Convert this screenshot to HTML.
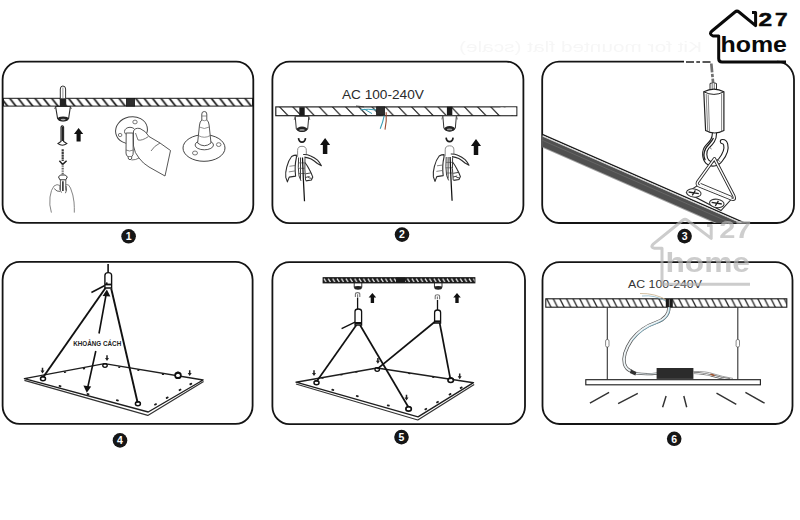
<!DOCTYPE html>
<html>
<head>
<meta charset="utf-8">
<title>Installation diagram</title>
<style>
html,body{margin:0;padding:0;background:#fff;}
body{width:800px;height:520px;overflow:hidden;font-family:"Liberation Sans",sans-serif;}
svg{display:block;}
text{font-family:"Liberation Sans",sans-serif;}
</style>
</head>
<body>
<svg width="800" height="520" viewBox="0 0 800 520">
<defs>
  <pattern id="hatch1" width="8.4" height="10" patternUnits="userSpaceOnUse" x="3" y="97.5">
    <rect width="8.4" height="10" fill="#fff"/>
    <path d="M-3,-1 L6.4,11 M5.4,-1 L14.8,11 M-11.4,-1 L-2,11" stroke="#1c1c1c" stroke-width="1.75"/>
  </pattern>
  <pattern id="hatch2" width="13.2" height="11" patternUnits="userSpaceOnUse" x="278.3" y="106">
    <rect width="13.2" height="11" fill="#fff"/>
    <path d="M0,-0.5 L11.5,11.5 M13.2,-0.5 L24.7,11.5 M-13.2,-0.5 L-1.7,11.5" stroke="#222" stroke-width="1.2"/>
  </pattern>
  <pattern id="hatch5" width="4.4" height="7" patternUnits="userSpaceOnUse" x="323" y="277">
    <rect width="4.4" height="7" fill="#1c1c1c"/>
    <path d="M0.9,1.7 L3,5" stroke="#e6e6e6" stroke-width="1.35"/>
  </pattern>
  <pattern id="hatch6" width="6.6" height="11" patternUnits="userSpaceOnUse" x="546" y="297.8">
    <rect width="6.6" height="11" fill="#fff"/>
    <path d="M0,-0.5 L6,11.5 M6.6,-0.5 L12.6,11.5 M-6.6,-0.5 L-0.6,11.5" stroke="#2a2a2a" stroke-width="1.3"/>
  </pattern>
  <g id="uparrow">
    <path d="M0,-5 L3.6,-0.6 L1.6,-0.6 L1.6,5 L-1.6,5 L-1.6,-0.6 L-3.6,-0.6 Z" fill="#111"/>
  </g>
  <g id="dnarrow">
    <path d="M0,2.6 L2,-0.4 L0.75,-0.4 L0.75,-3.2 L-0.75,-3.2 L-0.75,-0.4 L-2,-0.4 Z" fill="#222"/>
  </g>
  <g id="anchor">
    <ellipse cx="0" cy="0" rx="2.5" ry="2" fill="#fff" stroke="#111" stroke-width="1.5"/>
    <path d="M-2.4,-1 Q0,-3.4 2.4,-1" fill="none" stroke="#111" stroke-width="1.3"/>
  </g>
  <g id="dot"><rect x="-1.4" y="-0.9" width="2.8" height="1.8" rx="0.6" fill="#1c1c1c"/></g>
<g id="hand2">
    <!-- cup mount, origin at mount center-x, strip bottom y -->
    <rect x="-2.7" y="-8.7" width="5.4" height="8.7" fill="#1a1a1a"/>
    <path d="M-6.8,0.4 H6.8 L5.7,13 Q0,18.5 -5.7,13 Z" fill="#fff" stroke="#333" stroke-width="1"/>
    <path d="M-6.8,0.4 L-7.8,4 M6.8,0.4 L7.8,4" stroke="#555" stroke-width="0.8"/>
    <ellipse cx="0" cy="13.4" rx="5.4" ry="2.7" fill="#242424"/>
    <ellipse cx="0" cy="14" rx="2.8" ry="0.9" fill="#9a9a9a"/>
    <!-- small hook -->
    <path d="M-3.5,22.3 Q-3,26.3 0,26.3 Q3,26.3 3.5,22.3" fill="none" stroke="#1c1c1c" stroke-width="1.7"/>
    <!-- knob -->
    <path d="M-4.4,41 V34.4 Q-4.4,30.4 0,30.4 Q4.3,30.4 4.3,34.4 V39" fill="#fff" stroke="#8a8a8a" stroke-width="1"/>
    <!-- left crescent -->
    <path d="M-5.6,39.2 Q-8,39.2 -10.4,40.6 Q-13.6,44.5 -15.2,51 Q-16.8,57 -16.2,61.5 L-14.6,66 L-12.8,61.2 L-6.4,60.2 Q-7.6,50 -5.6,41.6 Z" fill="#fff" stroke="#2a2a2a" stroke-width="1.1" stroke-linejoin="round"/>
    <path d="M-12.6,50.4 L-6.8,49.6 M-13.2,56 L-6.8,55" fill="none" stroke="#666" stroke-width="0.8"/>
    <!-- index finger -->
    <path d="M1.2,38.6 Q5,38.4 8.2,39.8 Q12.5,41.5 15.5,44.2 Q17.8,46.6 19.4,49.8 Q17,48.6 15.4,47.6 Q12.2,44.6 9.2,43 Q6,41.6 2.4,41.2" fill="#fff" stroke="#2a2a2a" stroke-width="1.1" stroke-linejoin="round"/>
    <!-- curled fingers -->
    <path d="M3,46.6 Q5.6,50 7.6,54.2 Q9.6,58 10.8,61.2 L9.4,64.2 L3.8,65 " fill="none" stroke="#2a2a2a" stroke-width="1.1"/>
    <path d="M3.6,57.9 L8.8,57 M3.4,61.6 L7.6,60.6 M6,60.8 Q6.6,62.6 9.6,62.4" fill="none" stroke="#333" stroke-width="0.9"/>
    <!-- centre fingers -->
    <path d="M-3.4,41.6 Q-4.2,52 -3,60 L-1,65 M-1.5,41.6 V63 M3,42 Q2.4,53 3.6,64.6" fill="none" stroke="#333" stroke-width="0.95"/>
    <path d="M-3.6,47 H2.6 M-3.8,52.4 H2.6 M-3.4,57.6 H3" fill="none" stroke="#555" stroke-width="0.7"/>
    <!-- wire -->
    <path d="M0.5,41.6 L1.3,62 L2.5,85.4" fill="none" stroke="#111" stroke-width="1.25"/>
  </g>
</defs>
<rect width="800" height="520" fill="#fff"/>

<!-- ghost text -->
<filter id="blur1" x="-5%" y="-50%" width="110%" height="200%"><feGaussianBlur stdDeviation="0.7"/></filter>
<g id="ghost" filter="url(#blur1)" opacity="0.6">
  <text transform="translate(702,52) scale(-1,1)" font-size="15" fill="#f1f1f1" textLength="243" lengthAdjust="spacingAndGlyphs">Kit for mounted flat (scale)</text>
</g>

<!-- panel frames -->
<g fill="none" stroke="#141414" stroke-width="1.8">
  <rect x="2.6" y="61.6" width="250.7" height="161.2" rx="17" ry="18"/>
  <rect x="272.4" y="61.6" width="251" height="161.6" rx="17" ry="18"/>
  <path d="M684,61.6 H559 A17,18 0 0 0 542.2,79.6 V205 A17,18 0 0 0 559,223 H777 A17,18 0 0 0 794,205 V79.6 A17,18 0 0 0 777,61.6"/>
  <rect x="2.6" y="261.8" width="250" height="162" rx="17" ry="18"/>
  <rect x="272.4" y="262.2" width="252.6" height="162" rx="17" ry="18"/>
  <rect x="542.5" y="262.2" width="250" height="161.8" rx="17" ry="18"/>
</g>

<!-- PANEL 1 -->
<g id="p1">
  <!-- ceiling strip -->
  <rect x="3.5" y="98.3" width="249" height="7.8" fill="url(#hatch1)" stroke="#1a1a1a" stroke-width="1"/>
  <rect x="126.4" y="98.4" width="8.2" height="7.7" fill="#2e2e2e" stroke="#161616" stroke-width="0.8"/>
  <!-- anchor plug -->
  <path d="M60.3,98.5 V89 Q60.3,86 62.9,86 Q65.6,86 65.6,89 V98.5" fill="#fff" stroke="#333" stroke-width="1"/>
  <path d="M62.9,87.5 V98" stroke="#777" stroke-width="0.8" fill="none"/>
  <rect x="59.8" y="98.5" width="6.4" height="7.6" fill="#222"/>
  <!-- cup mount -->
  <path d="M55.6,106.5 H70.4 L68.6,118.5 Q63,123.5 57.6,118.5 Z" fill="#fff" stroke="#2a2a2a" stroke-width="1.1"/>
  <ellipse cx="63.1" cy="118.9" rx="5.3" ry="2.4" fill="#222"/>
  <ellipse cx="63.1" cy="119.6" rx="2.6" ry="0.8" fill="#aaa"/>
  <path d="M55.6,106.5 L54.6,109 M70.4,106.5 L71.4,109" stroke="#444" stroke-width="0.8"/>
  <!-- screw -->
  <path d="M61,127 Q62.3,124.8 63.6,127 V141.5 L66.8,143.6 Q62.3,146.8 58,143.6 L61,141.5 Z" fill="#fff" stroke="#222" stroke-width="1.1"/>
  <path d="M62.3,127 V141" stroke="#222" stroke-width="1.4"/>
  <!-- arrow -->
  <use href="#uparrow" transform="translate(78.6,134.8) scale(1.28,1.35)"/>
  <!-- bit + hook -->
  <path d="M62.7,149.2 V161" stroke="#3a3a3a" stroke-width="2.2" stroke-dasharray="2.2 0.5" fill="none"/>
  <path d="M59.4,160.8 L62.7,164.4 L66.6,160.8" stroke="#222" stroke-width="1.5" fill="none" stroke-linejoin="round"/>
  <path d="M62.7,164.5 V175" stroke="#666" stroke-width="2.2" stroke-dasharray="1 0.7" fill="none"/>
  <!-- screwdriver handle -->
  <path d="M58.5,177 L60.4,175 H65.3 L67.3,177 L65.8,179.8 H59.9 Z" fill="#fff" stroke="#333" stroke-width="1"/>
  <path d="M60.4,179.8 V190 M65.8,179.8 V190.6" fill="none" stroke="#444" stroke-width="0.9"/>
  <path d="M62.9,181.2 V191" stroke="#222" stroke-width="1.5"/>
  <!-- hand -->
  <path d="M51.4,212.6 Q49,205 50,197 Q51,189.5 54,186 Q57,183.5 60,185.5 M65.8,184.6 Q68.6,183.4 70.5,188 Q73.4,195 74,202 Q74.5,208 74.3,212.6" fill="none" stroke="#777" stroke-width="0.9"/>
  <path d="M54.2,188.6 Q57,192 60,191.4 M60,185.5 Q59,190 61.5,192.6 M66,186 Q67.5,190.5 65.4,193.2" fill="none" stroke="#555" stroke-width="0.9"/>

  <!-- middle: hand holding mount -->
  <ellipse cx="131.5" cy="130.2" rx="16" ry="13.4" fill="#fff" stroke="#444" stroke-width="1" transform="rotate(-12 131.5 130.2)"/>
  <ellipse cx="135" cy="122" rx="2.2" ry="1.9" fill="#fff" stroke="#555" stroke-width="0.8"/>
  <ellipse cx="120.1" cy="135" rx="1.8" ry="1.6" fill="#fff" stroke="#555" stroke-width="0.8"/>
  <ellipse cx="130" cy="131.5" rx="5.5" ry="4.2" fill="#fff" stroke="#444" stroke-width="0.9"/>
  <path d="M126.2,133 L126,153 Q126,156 128,156.5 L128.5,159 Q130,160.5 131.5,159 L131.8,156.5 Q133.5,155 133.2,152 L133,133 Z" fill="#fff" stroke="#444" stroke-width="0.9"/>
  <path d="M126,150 Q129.5,152 133.2,150 M128,156.5 H131.8" fill="none" stroke="#555" stroke-width="0.7"/>
  <path d="M133.5,131 Q135,127.5 140,128.5 Q146,131 149,136.5 L160,143 L170.5,150.5 L165,176 L149,167 Q143,163.5 139,158 Q134.5,153 133.5,146 Z" fill="#fff" stroke="#444" stroke-width="0.9"/>
  <path d="M135.5,133 L138,140 Q142,141 148.5,136.5 M160,143 Q154,146 151,151 M139,158 Q136,160 131.5,160" fill="none" stroke="#555" stroke-width="0.8"/>

  <!-- right: mount -->
  <ellipse cx="204" cy="148" rx="21" ry="13.3" fill="#fff" stroke="#444" stroke-width="1"/>
  <ellipse cx="218.7" cy="144.6" rx="2.3" ry="1.9" fill="#fff" stroke="#555" stroke-width="0.8"/>
  <ellipse cx="195" cy="153" rx="2.5" ry="2" fill="#fff" stroke="#555" stroke-width="0.8"/>
  <ellipse cx="204.3" cy="145" rx="9.2" ry="4.8" fill="#fff" stroke="#444" stroke-width="0.9"/>
  <path d="M197.6,143 L199.5,125 Q199.8,121.5 201.8,120 V114 Q201.8,111.5 204.3,111.5 Q206.8,111.5 206.8,114 V120 Q208.8,121.5 209.1,125 L211,143 Q204.3,148.5 197.6,143 Z" fill="#fff" stroke="#444" stroke-width="0.9"/>
  <path d="M201.8,116 H206.8 M201.8,120 Q204.3,121.5 206.8,120 M199.3,127 Q204.3,130 209.3,127 M198.3,135.5 Q204.3,139 210.3,135.5" fill="none" stroke="#666" stroke-width="0.7"/>
</g>
<!-- PANEL 2 -->
<g id="p2">
  <rect x="275.8" y="106.9" width="241" height="8.8" fill="url(#hatch2)" stroke="#1a1a1a" stroke-width="1.15"/><rect x="500.5" y="107.5" width="15.7" height="7.6" fill="#fff"/>
  <!-- wires -->
  <path d="M356,106 Q360,106.3 364,106.9" fill="none" stroke="#333" stroke-width="0.9"/>
  <path d="M360.5,109.8 Q368,108.6 376.5,110 M364.5,109.2 L372,113.6" fill="none" stroke="#3a9db5" stroke-width="1"/>
  <rect x="376.6" y="106.9" width="8" height="8.2" fill="#2e2e2e" stroke="#1a1a1a" stroke-width="0.8"/>
  <path d="M384.2,115.6 Q383,122 380.2,128.8" fill="none" stroke="#3a9db5" stroke-width="1.1"/>
  <path d="M386.2,112.3 Q386.8,121 385,129.6" fill="none" stroke="#9a4a30" stroke-width="1.1"/>
  
  <text x="341.9" y="98.5" font-size="13.4" fill="#2a2a2a" textLength="82" lengthAdjust="spacingAndGlyphs">AC 100-240V</text>
  <use href="#hand2" transform="translate(302,115.9)"/>
  <use href="#hand2" transform="translate(449.6,115.4)"/>
  <use href="#uparrow" transform="translate(325.1,146) scale(1.4,1.6)"/>
  <use href="#uparrow" transform="translate(476,147) scale(1.4,1.6)"/>
</g>
<!-- PANEL 3 -->
<g id="p3">
  <!-- dashed top portion -->
    <path d="M686,62 H694 M696.3,62 H700 M702.5,62 H710.5" stroke="#222" stroke-width="1.6" fill="none"/>
  <!-- dashed wire -->
  <path d="M711.3,63.5 L713,82" stroke="#707070" stroke-width="2.7" stroke-dasharray="9 1.3 3.5 1.3" fill="none"/>
  <!-- edge bar (clipped to frame) -->
  <clipPath id="clip3"><rect x="542.5" y="61.5" width="251.5" height="161.5" rx="16"/></clipPath>
  <g clip-path="url(#clip3)">
    <path d="M541,135.34 L760,231.27 L760,243.07 L541,147.14 Z" fill="#a2a2a2"/>
    <path d="M541,135.94 L760,231.87 L760,241.97 L541,146.04 Z" fill="#505050"/>
    <path d="M541,133.74 L760,229.67" stroke="#1a1a1a" stroke-width="1.3" fill="none"/>
    <path d="M541,135.24 L760,231.17" stroke="#d6d6d6" stroke-width="1" fill="none"/>
    <path d="M541,139.74 L760,235.67" stroke="#666" stroke-width="0.9" fill="none"/>
  </g>
  <!-- plate -->
  <path d="M686.6,192.6 L698.3,185 L731.5,199 L721,210.6 Z" fill="#fff" stroke="#2a2a2a" stroke-width="1.1"/>
  <!-- screws -->
  <ellipse cx="693.8" cy="193" rx="7.3" ry="4.1" fill="#fff" stroke="#333" stroke-width="1.05" transform="rotate(8 693.8 193)"/>
  <path d="M688.6,192 L698.8,193.6 M692.3,195.4 L695.4,190.4" stroke="#222" stroke-width="1.3"/>
  <ellipse cx="716.8" cy="203.4" rx="7.3" ry="4.2" fill="#fff" stroke="#333" stroke-width="1.05" transform="rotate(8 716.8 203.4)"/>
  <path d="M711.6,202.4 L721.8,204 M715.3,205.8 L718.4,200.8" stroke="#222" stroke-width="1.3"/>
  <!-- hook -->
  <path d="M714.5,133 C714.5,140 711,143 707.5,146.5 C703.3,151 704.3,158.5 707.5,161.8 C711,165.3 717,164.6 720.5,160 C724,155.5 727.2,150 725.7,144.6 C725.1,142.4 723.6,141.5 722.4,141.6" fill="none" stroke="#1e1e1e" stroke-width="5.3" stroke-linecap="round"/>
  <path d="M714.5,133 C714.5,140 711,143 707.5,146.5 C703.3,151 704.3,158.5 707.5,161.8 C711,165.3 717,164.6 720.5,160 C724,155.5 727.2,150 725.7,144.6 C725.1,142.4 723.6,141.5 722.4,141.6" fill="none" stroke="#fff" stroke-width="3.1" stroke-linecap="round"/>
  <path d="M713.4,138 C711.5,142.5 708,144.5 705.6,148.6 C703.6,152.6 703.6,157 705.2,160.2" fill="none" stroke="#1e1e1e" stroke-width="1.3"/>
  <path d="M709,147 L711.6,149 M717.5,159.6 L720.4,162" stroke="#444" stroke-width="0.7"/>
  <!-- triangle wire -->
  <path d="M714.4,158.6 L697.6,182 Q696.2,184.8 699.4,186 L731,198.8 Q735.8,200.7 733.9,196 Z" fill="none" stroke="#2a2a2a" stroke-width="3.2" stroke-linejoin="round"/>
  <path d="M714.4,158.6 L697.6,182 Q696.2,184.8 699.4,186 L731,198.8 Q735.8,200.7 733.9,196 Z" fill="none" stroke="#fff" stroke-width="1.4" stroke-linejoin="round"/>
  <path d="M700,184.4 L731.5,197.4" stroke="#fff" stroke-width="2.2"/>
  <path d="M700.6,183.4 L732,196.5" stroke="#2a2a2a" stroke-width="0.9"/>
  <!-- cylinder -->
  <path d="M710,90 V83.5 Q713.2,81.5 716.5,83.5 V90" fill="#fff" stroke="#333" stroke-width="1"/>
  <path d="M712.2,83 V90 M714.3,83 V90" stroke="#555" stroke-width="0.8"/>
  <path d="M703.8,91.8 L705.6,130.5 Q714.5,135.5 723.9,130.5 L723.9,91.8 Q714,86.5 703.8,91.8 Z" fill="#fff" stroke="#222" stroke-width="1.2"/>
  <path d="M703.8,91.8 Q714,97 723.9,91.8" fill="none" stroke="#222" stroke-width="1"/>
  <path d="M706.2,94 L707.7,131.2 M708.2,94.6 L709.5,131.8 M721.6,93.5 L721.6,131.4" fill="none" stroke="#666" stroke-width="0.8"/>
</g>
<!-- PANEL 4 -->
<g id="p4">
  <!-- light panel (quad) -->
  <path d="M24.4,378.6 L104.5,363.6 L203.1,380 L148.2,412 Z" fill="#fff" stroke="#1e1e1e" stroke-width="1.4" stroke-linejoin="round"/>
  <path d="M24.4,380.4 L147.8,415.4 L203.6,381.6" fill="none" stroke="#333" stroke-width="1.2" stroke-linejoin="round"/>
  <!-- edge dots -->
  <use href="#dot" transform="translate(60,386.2) rotate(16)"/>
  <use href="#dot" transform="translate(88,394.2) rotate(16)"/>
  <use href="#dot" transform="translate(117.4,400.4) rotate(16)"/>
  <use href="#dot" transform="translate(155.5,404.4) rotate(-30)"/>
  <use href="#dot" transform="translate(167.2,397.7) rotate(-30)"/>
  <use href="#dot" transform="translate(180,389.9) rotate(-30)"/>
  <use href="#dot" transform="translate(190.8,384) rotate(-30)"/>
  <use href="#dot" transform="translate(119.2,367.2) rotate(9) scale(0.8)"/>
  <use href="#dot" transform="translate(138.3,370.2) rotate(9) scale(0.8)"/>
  <use href="#dot" transform="translate(162.9,374.3) rotate(9) scale(0.8)"/>
  <use href="#dot" transform="translate(65,372.2) rotate(-10) scale(0.8)"/>
  <use href="#dot" transform="translate(84,368.6) rotate(-10) scale(0.8)"/>
  <!-- anchors -->
  <use href="#anchor" transform="translate(43,378.8)"/>
  <use href="#anchor" transform="translate(105,365.6) scale(0.9)"/>
  <use href="#anchor" transform="translate(178,375.4) scale(1.15,1.35)"/>
  <use href="#anchor" transform="translate(137.9,403.8)"/>
  <use href="#dnarrow" transform="translate(42.5,371)"/>
  <use href="#dnarrow" transform="translate(107,358.5)"/>
  <use href="#dnarrow" transform="translate(189.7,373.4)"/>
  <!-- cables -->
  <path d="M105.5,288 L43.3,377" stroke="#111" stroke-width="1.9" fill="none"/>
  <path d="M111.2,288.5 L137.6,402.5" stroke="#111" stroke-width="1.9" fill="none"/>
  <path d="M91.4,292.5 L104.8,285.5" stroke="#111" stroke-width="1.5" fill="none"/>
  <!-- distance arrow -->
  <path d="M106.2,294 L99,333.5 M95.8,351 L87.6,388" stroke="#111" stroke-width="1.6" fill="none"/>
  <path d="M106.9,289.6 L110.4,296.6 L102.6,296 Z" fill="#111"/>
  <path d="M86.8,392.8 L83.4,385.6 L91.2,386.6 Z" fill="#111"/>
  <!-- top cylinder -->
  <path d="M108.1,264 V273" stroke="#111" stroke-width="1.6"/>
  <path d="M104.9,288 V275.5 Q104.9,272.6 108.2,272.6 Q111.6,272.6 111.6,275.5 V288 Z" fill="#fff" stroke="#111" stroke-width="1.4"/>
  <path d="M104.9,284.5 H111.6" stroke="#111" stroke-width="1.8"/>
  <circle cx="106.8" cy="283.2" r="0.9" fill="#111"/>
  <text x="73.2" y="346.4" font-size="6.6" font-weight="bold" fill="#222" textLength="48" lengthAdjust="spacingAndGlyphs">KHOẢNG CÁCH</text>
</g>
<!-- PANEL 5 -->
<g id="p5">
  <!-- ceiling strip -->
  <rect x="323" y="277.6" width="152" height="5.4" fill="url(#hatch5)" stroke="#1a1a1a" stroke-width="0.8"/>
  <rect x="396" y="277.6" width="9" height="5.4" fill="#1a1a1a"/>
  <rect x="354.2" y="283" width="7.6" height="4" fill="#fff" stroke="#222" stroke-width="0.9"/>
  <ellipse cx="358" cy="287.8" rx="3.9" ry="1.9" fill="#222"/>
  <rect x="434.4" y="283" width="7.6" height="4" fill="#fff" stroke="#222" stroke-width="0.9"/>
  <ellipse cx="438.2" cy="287.8" rx="3.9" ry="1.9" fill="#222"/>
  <!-- small hooks -->
  <path d="M355.4,297 V294.2 Q355.4,292.6 357.6,292.6 Q359.8,292.6 359.8,294.2 V297 M357.6,294.2 V297" fill="none" stroke="#777" stroke-width="1.1"/>
  <path d="M435.2,299.2 V296.4 Q435.2,294.8 437.4,294.8 Q439.6,294.8 439.6,296.4 V299.2 M437.4,296.4 V299.2" fill="none" stroke="#777" stroke-width="1.1"/>
  <use href="#uparrow" transform="translate(372.4,298) scale(1.05,1.0)"/>
  <use href="#uparrow" transform="translate(457,298) scale(1.05,1.0)"/>
  <!-- light panel -->
  <path d="M296,382.2 L377,368 L473.5,382.7 L418,416.8 Z" fill="#fff" stroke="#1e1e1e" stroke-width="1.4" stroke-linejoin="round"/>
  <path d="M296,384 L417.8,420 L474.2,384.4" fill="none" stroke="#333" stroke-width="1.2" stroke-linejoin="round"/>
  <use href="#dot" transform="translate(332.8,389.8) rotate(16)"/>
  <use href="#dot" transform="translate(357.3,396.2) rotate(16)"/>
  <use href="#dot" transform="translate(388.3,405.5) rotate(16)"/>
  <use href="#dot" transform="translate(425.8,409.1) rotate(-30)"/>
  <use href="#dot" transform="translate(437.5,402.1) rotate(-30)"/>
  <use href="#dot" transform="translate(450,394.3) rotate(-30)"/>
  <use href="#dot" transform="translate(461.2,387.7) rotate(-30)"/>
  <use href="#dot" transform="translate(409.3,373.5) rotate(9) scale(0.8)"/>
  <use href="#dot" transform="translate(433.2,377.2) rotate(9) scale(0.8)"/>
  <use href="#dot" transform="translate(322.6,378) rotate(-10) scale(0.8)"/>
  <use href="#dot" transform="translate(341.5,374.7) rotate(-10) scale(0.8)"/>
  <use href="#dot" transform="translate(356.4,372) rotate(-10) scale(0.8)"/>
  <use href="#anchor" transform="translate(316.5,382.8)"/>
  <use href="#anchor" transform="translate(377.2,369.6) scale(0.9)"/>
  <use href="#anchor" transform="translate(450.7,380.3) scale(1.1)"/>
  <use href="#anchor" transform="translate(408.6,408.9) scale(1.1)"/>
  <use href="#dnarrow" transform="translate(314,373.4)"/>
  <use href="#dnarrow" transform="translate(377.9,361.2)"/>
  <use href="#dnarrow" transform="translate(459.7,376.6)"/>
  <use href="#dnarrow" transform="translate(406.5,398)"/>
  <!-- cables -->
  <path d="M356.4,325 L316.6,381.5" stroke="#111" stroke-width="1.7" fill="none"/>
  <path d="M360,325 L408,406.5" stroke="#111" stroke-width="1.7" fill="none"/>
  <path d="M435.2,321.5 L377.4,368.8" stroke="#111" stroke-width="1.7" fill="none"/>
  <path d="M439.6,322.5 L450.4,379.2" stroke="#111" stroke-width="1.7" fill="none"/>
  <path d="M341.6,328.6 L355,322.2" stroke="#111" stroke-width="1.4" fill="none"/>
  <!-- cylinders -->
  <path d="M357.6,297.5 V309.5" stroke="#111" stroke-width="1.3"/>
  <path d="M355,325 V311.6 Q355,309 358.3,309 Q361.6,309 361.6,311.6 V325 Z" fill="#fff" stroke="#111" stroke-width="1.3"/>
  <path d="M355,323 H361.6" stroke="#111" stroke-width="2"/>
  <path d="M437.5,300 V310.5" stroke="#111" stroke-width="1.3"/>
  <path d="M434.6,323 V312.4 Q434.6,310 437.6,310 Q440.6,310 440.6,312.4 V323 Z" fill="#fff" stroke="#111" stroke-width="1.3"/>
  <path d="M434.6,321.4 H440.6" stroke="#111" stroke-width="2"/>
</g>
<!-- PANEL 6 -->
<g id="p6">
  <rect x="545.8" y="298.8" width="241" height="8.4" fill="url(#hatch6)" stroke="#1a1a1a" stroke-width="1.1"/>
  <text x="628.1" y="287.7" font-size="11.6" fill="#333" textLength="73.8" lengthAdjust="spacingAndGlyphs">AC 100-240V</text>
  <!-- suspension wires -->
  <path d="M607.3,307.2 V379.4 M737.8,307.2 V379.4" stroke="#333" stroke-width="1.1" fill="none"/>
  <rect x="605.6" y="339.5" width="3.4" height="7.6" rx="1.5" fill="#fff" stroke="#555" stroke-width="0.7"/>
  <rect x="736.1" y="339.5" width="3.4" height="7.6" rx="1.5" fill="#fff" stroke="#555" stroke-width="0.7"/>
  <!-- cable from ceiling -->
  <path d="M640,293.5 Q655,293 667.5,300.5" fill="none" stroke="#c8b08a" stroke-width="0.8"/>
  <path d="M642,296 Q655,294.5 667.5,302" fill="none" stroke="#8ab4c4" stroke-width="0.8"/>
  <path d="M669,307 Q669,318 656,322.5 Q641,327.5 631.5,340 Q622,354 624.5,364 Q626,369.5 632,371.5" fill="none" stroke="#555" stroke-width="3.3"/>
  <path d="M669,307 Q669,318 656,322.5 Q641,327.5 631.5,340 Q622,354 624.5,364 Q626,369.5 632,371.5" fill="none" stroke="#eef4f6" stroke-width="1.9"/>
  <path d="M669.6,307 Q670.4,318.6 656.6,323.4 Q642,328.4 632.4,340.6" fill="none" stroke="#6fb0c8" stroke-width="0.6"/>
  <rect x="665.8" y="298.8" width="7" height="8.4" fill="#1a1a1a"/><rect x="668.9" y="299.4" width="0.9" height="7.2" fill="#888"/>
  <!-- connector -->
  <path d="M631,369.6 L636.5,372 L635.4,375.4 L629.8,373 Z" fill="#333"/>
  <path d="M636,373.4 Q646,374.8 657,373.6" fill="none" stroke="#555" stroke-width="2.2"/>
  <path d="M636,373.4 Q646,374.8 657,373.6" fill="none" stroke="#e4eef2" stroke-width="1"/>
  <!-- driver -->
  <rect x="656.6" y="368" width="36.8" height="10.9" fill="#2b2b2b"/>
  <!-- output cable -->
  <path d="M693.2,373 Q705,373.5 712,375.6 Q722,378.5 730,379.4" fill="none" stroke="#555" stroke-width="2.2"/>
  <path d="M693.2,373 Q705,373.5 712,375.6 Q722,378.5 730,379.4" fill="none" stroke="#e8e8e8" stroke-width="1"/>
  <path d="M693.2,371.6 Q706,371 714,374 Q722,376.6 733,378.4" fill="none" stroke="#777" stroke-width="0.7"/>
  <path d="M710.5,374.2 L714.5,375.6" stroke="#a0522d" stroke-width="1.6"/>
  <!-- light panel bar -->
  <rect x="585.8" y="379.7" width="174.6" height="5.1" fill="#fff" stroke="#222" stroke-width="1.15"/>
  <!-- rays -->
  <path d="M589.9,403.1 L609.1,392.3 M618.1,403.7 L637.8,393.4 M662.6,407.2 L666.1,396 M686.7,407.2 L683.8,396 M716.5,393.2 L736.3,404.3 M745.4,392.4 L764.6,403.2" stroke="#333" stroke-width="1.45" fill="none"/>
</g>

<!-- numbers -->
<g id="nums" font-weight="bold" font-size="10.5" fill="#fff" text-anchor="middle">
  <circle cx="128.6" cy="236.3" r="7.3" fill="#161616"/><text x="128.6" y="240.05">1</text>
  <circle cx="402" cy="234.6" r="7.3" fill="#161616"/><text x="402" y="238.35">2</text>
  <circle cx="684.6" cy="236.1" r="7.3" fill="#161616"/><text x="684.6" y="239.85">3</text>
  <circle cx="120" cy="440.4" r="7.3" fill="#161616"/><text x="120" y="444.15">4</text>
  <circle cx="401.5" cy="437.1" r="7.3" fill="#161616"/><text x="401.5" y="440.85">5</text>
  <circle cx="674.2" cy="438.8" r="7.3" fill="#161616"/><text x="674.2" y="442.55">6</text>
</g>

<!-- LOGO -->
<g id="logo">
  <path d="M786,62 H722 Q718.7,62 718.7,58.5 V36 H713 Q708.5,34 712,31 L735,12 Q737,10.3 739,12 L755.6,25.6 V12.5 H752" fill="none" stroke="#0a0a0a" stroke-width="3" stroke-linejoin="round" stroke-linecap="butt"/>
  <text x="758.6" y="25.7" font-size="19" font-weight="bold" fill="#0a0a0a" stroke="#0a0a0a" stroke-width="0.5" textLength="13.6" lengthAdjust="spacingAndGlyphs">2</text><text x="775" y="25.7" font-size="19" font-weight="bold" fill="#0a0a0a" stroke="#0a0a0a" stroke-width="0.5" textLength="12.6" lengthAdjust="spacingAndGlyphs">7</text>
  <text x="720.5" y="52" font-size="22" font-weight="bold" fill="#0a0a0a" textLength="66.5" lengthAdjust="spacingAndGlyphs">home</text>
</g>

<!-- WATERMARK -->
<g id="wm" opacity="0.68">
  <path d="M750,284.3 H662 V248.3 H654.5 Q650,247.3 653.2,244.2 L683,220 Q685,218.4 687,220 L711.2,238.4 V225.4 H707" fill="none" stroke="#b4b4b4" stroke-width="3" stroke-linejoin="round"/>
  <text x="719.2" y="237.7" font-size="23.5" font-weight="bold" fill="#b8b8b8" textLength="32.3" lengthAdjust="spacingAndGlyphs">27</text>
  <text x="665.4" y="271.5" font-size="28" font-weight="bold" fill="#b4b4b4" textLength="84.6" lengthAdjust="spacingAndGlyphs">home</text>
</g>
</svg>
</body>
</html>
